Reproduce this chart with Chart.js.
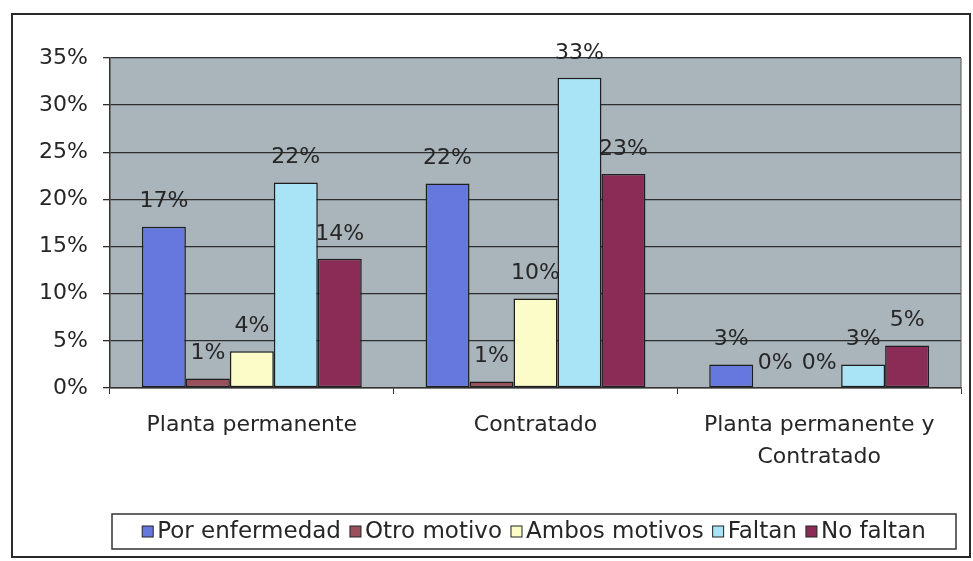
<!DOCTYPE html>
<html>
<head>
<meta charset="utf-8">
<script src="https://cdn.jsdelivr.net/npm/chart.js@4/dist/chart.umd.min.js"></script>
<style>
  html, body { margin: 0; padding: 0; background: #ffffff; }
  #chart { display: block; }
</style>
</head>
<body>
<canvas id="chart" width="973" height="561"></canvas>
<script>
// Data Setup
const categories = ['Planta permanente', 'Contratado', ['Planta permanente y', 'Contratado']];
const seriesNames = ['Por enfermedad', 'Otro motivo', 'Ambos motivos', 'Faltan', 'No faltan'];
const porEnfermedad = [17.1, 21.7, 2.5];
const otroMotivo = [1.0, 0.7, 0];
const ambosMotivos = [3.9, 9.5, 0];
const faltan = [21.8, 32.9, 2.5];
const noFaltan = [13.7, 22.7, 4.5];
const yTicks = [0, 5, 10, 15, 20, 25, 30, 35];

const seriesColors = ['#6677dd', '#9a4f5c', '#fcfcc8', '#a9e4f6', '#8a2c56'];
const textColor = '#262626';
const fontFamily = '"DejaVu Sans", "Liberation Sans", sans-serif';

Chart.defaults.font.family = fontFamily;
Chart.defaults.color = textColor;

// Gray plot area + outline
const plotBackground = {
  id: 'plotBackground',
  beforeDraw(chart) {
    const { ctx, chartArea: a } = chart;
    ctx.save();
    ctx.fillStyle = '#a9b4bb';
    ctx.fillRect(a.left, a.top, a.right - a.left, a.bottom - a.top);
    ctx.restore();
  },
  afterDraw(chart) {
    const { ctx, chartArea: a } = chart;
    ctx.save();
    ctx.strokeStyle = '#555';
    ctx.lineWidth = 1;
    ctx.beginPath();
    ctx.moveTo(a.right, a.top);
    ctx.lineTo(a.right, a.bottom);
    ctx.stroke();
    ctx.restore();
  }
};

// Percent labels above each bar
const barLabels = {
  id: 'barLabels',
  afterDatasetsDraw(chart) {
    const ctx = chart.ctx;
    ctx.save();
    ctx.font = '22px ' + fontFamily;
    ctx.fillStyle = textColor;
    ctx.textAlign = 'center';
    ctx.textBaseline = 'middle';
    chart.data.datasets.forEach((ds, i) => {
      chart.getDatasetMeta(i).data.forEach((bar, j) => {
        ctx.fillText(Math.round(ds.data[j]) + '%', bar.x, bar.y - 25);
      });
    });
    ctx.restore();
  }
};

// Boxed legend at the bottom and the outer frame
const boxedLegend = {
  id: 'boxedLegend',
  afterDraw(chart) {
    const ctx = chart.ctx;
    const box = { left: 112, top: 514, right: 956, bottom: 549 };
    const sq = 11, gapBox = 4, gapItem = 9;
    ctx.save();
    ctx.font = '23px ' + fontFamily;
    const widths = chart.data.datasets.map(ds => ctx.measureText(ds.label).width);
    const total = widths.reduce((s, w) => s + sq + gapBox + w, 0) + gapItem * (widths.length - 1);
    let x = (box.left + box.right) / 2 - total / 2;
    const cy = (box.top + box.bottom) / 2;

    ctx.strokeStyle = '#333';
    ctx.lineWidth = 1.5;
    ctx.strokeRect(box.left, box.top, box.right - box.left, box.bottom - box.top);

    ctx.textBaseline = 'middle';
    ctx.textAlign = 'left';
    chart.data.datasets.forEach((ds, i) => {
      ctx.fillStyle = ds.backgroundColor;
      ctx.fillRect(x, cy - sq / 2, sq, sq);
      ctx.lineWidth = 1;
      ctx.strokeStyle = '#222';
      ctx.strokeRect(x, cy - sq / 2, sq, sq);
      ctx.fillStyle = textColor;
      ctx.fillText(ds.label, x + sq + gapBox, cy + 1);
      x += sq + gapBox + widths[i] + gapItem;
    });

    // outer chart frame
    ctx.strokeStyle = '#2a2a2a';
    ctx.lineWidth = 2;
    ctx.strokeRect(12, 14, 958, 543);
    ctx.restore();
  }
};

const seriesData = [porEnfermedad, otroMotivo, ambosMotivos, faltan, noFaltan];

new Chart(document.getElementById('chart').getContext('2d'), {
  type: 'bar',
  data: {
    labels: categories,
    datasets: seriesNames.map((name, i) => ({
      label: name,
      data: seriesData[i],
      backgroundColor: seriesColors[i],
      borderColor: '#1e1e1e',
      borderWidth: 1.5,
      borderSkipped: false,
      categoryPercentage: 0.775,
      barPercentage: 1
    }))
  },
  options: {
    responsive: false,
    animation: false,
    layout: { padding: { left: 12, top: 58, right: 12, bottom: 63 } },
    plugins: {
      legend: { display: false },
      tooltip: { enabled: false }
    },
    scales: {
      x: {
        afterFit: s => { s.height = 110; },
        grid: { offset: true, drawOnChartArea: false, color: '#333', tickLength: 6 },
        border: { color: '#333', width: 1.5 },
        ticks: { font: { size: 22, lineHeight: 1.45 }, color: textColor, padding: 15, maxRotation: 0 }
      },
      y: {
        min: 0,
        max: 35,
        afterFit: s => { s.width = 98; },
        afterBuildTicks: s => { s.ticks = yTicks.map(v => ({ value: v })); },
        grid: { color: '#2e2e2e', lineWidth: 1.3, tickLength: 7 },
        border: { color: '#333', width: 1.5 },
        ticks: { font: { size: 22 }, color: textColor, padding: 15, callback: v => v + '%' }
      }
    }
  },
  plugins: [plotBackground, barLabels, boxedLegend]
});
</script>
</body>
</html>
